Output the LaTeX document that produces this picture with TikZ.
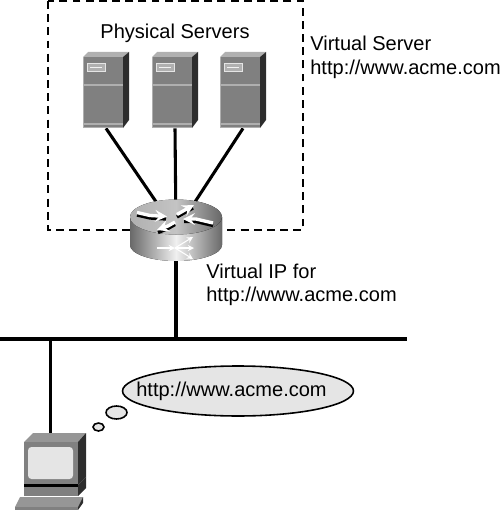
\documentclass[tikz,border=0pt]{standalone}
\usepackage{fontspec}
\setmainfont{Liberation Sans}
\usetikzlibrary{shapes,arrows,positioning,calc}
\definecolor{boxgray}{RGB}{128,128,128}
\definecolor{topgray}{RGB}{176,176,176}
\definecolor{sidegray}{RGB}{45,45,45}
\definecolor{edgegray}{RGB}{175,175,175}
\definecolor{bubblegray}{RGB}{229,229,229}
\definecolor{routerdark}{RGB}{105,105,105}
\definecolor{routerlight}{RGB}{240,240,240}

\begin{document}
\begin{tikzpicture}[
    x=0.02cm, y=-0.02cm,
    label/.style={font=\fontsize{11.4}{13.4}\selectfont, align=left, anchor=west, inner sep=0pt},
    serverbox/.style={minimum width=0.92cm, minimum height=1.52cm, inner sep=0pt},
    routerbox/.style={minimum width=1.84cm, minimum height=1.22cm, inner sep=0pt},
    pcbox/.style={minimum width=1.42cm, minimum height=1.54cm, inner sep=0pt},
    link/.style={line width=1.75pt, black},
    thought/.style={draw=black, line width=0.9pt, fill=bubblegray},
    toparrow/.style={->, >=stealth, white, line width=1.9pt},
    topshade/.style={line width=1.9pt, black},
    fanarrow/.style={->, >=stealth, white, line width=0.6pt}
]
\useasboundingbox (0,0) rectangle (500,510);

% Virtual server frame
\draw[line width=0.6pt, dash pattern=on 4.5pt off 3pt] (48,1) rectangle (303,230);

% Placement boxes
\node[serverbox] (server1) at (106,90) {};
\node[serverbox] (server2) at (175,90) {};
\node[serverbox] (server3) at (243,90) {};
\node[routerbox] (router) at (176,231) {};
\node[pcbox] (pc) at (50.5,471.5) {};
\coordinate (busleft) at (0,339);
\coordinate (busright) at (407,339);

% Links
\draw[link] (server1.south) -- (router.center);
\draw[link] (server2.south) -- (router.center);
\draw[link] (server3.south) -- (router.center);
\draw[link] (router.center) -- (router |- busleft);
\draw[link, line width=2pt] (busleft) -- (busright);
\draw[link] (pc.north) -- (pc |- busleft);

% Servers
\foreach \px in {106,175,243} {
  \begin{scope}[shift={(\px,90)}]
    \fill[topgray] (-23,-33) -- (-18,-38) -- (23,-38) -- (17,-33) -- cycle;
    \fill[sidegray] (17,-33) -- (23,-38) -- (23,30) -- (17,38) -- cycle;
    \fill[boxgray] (-23,-33) rectangle (17,38);
    \draw[edgegray, line width=0.5pt] (-23,38) -- (-23,-33);
    \draw[edgegray, line width=0.6pt] (-23,-5) -- (17,-5);
    \draw[edgegray, line width=0.6pt] (-23,34) -- (17,34);
    \draw[edgegray, line width=0.6pt] (-23,37.5) -- (17,37.5);
    \fill[topgray, draw=white!80!gray, line width=0.4pt] (-19,-27) rectangle (-1,-19);
    \draw[white!90!gray, line width=0.4pt] (-16,-23) -- (-4,-23);
  \end{scope}
}

% Router
\fill[left color=routerdark, right color=routerdark, middle color=routerlight]
  (130,217) -- (130,245) arc[start angle=180, end angle=0, x radius=46, y radius=16] -- (222,217) -- cycle;
\fill[left color=topgray, right color=boxgray!120!white, middle color=topgray!75!white]
  (176,217) ellipse[x radius=46, y radius=17.5];
\draw[topshade] (137,215) -- (150,218) -- (166,219);
\draw[toparrow] (137,212.5) -- (150,215.5) -- (167,216.5);
\draw[topshade] (177,217) -- (184,213) -- (193,208);
\draw[toparrow] (177,214.5) -- (184,210.5) -- (194,205);
\draw[topshade] (213,225.5) -- (196,221.5) -- (184,221.5);
\draw[toparrow] (213,223) -- (196,219) -- (183,219);
\draw[topshade] (175,224.5) -- (168,228.5) -- (158,232.5);
\draw[toparrow] (175,222) -- (168,226) -- (157,230);
\draw[fanarrow] (157,248) -- (175,248);
\draw[fanarrow] (175,248) -- (193,237);
\draw[fanarrow] (175,248) -- (194,248);
\draw[fanarrow] (175,248) -- (193,259);

% Computer
\fill[topgray!85!black] (24,442) -- (33,433) -- (86,433) -- (78,442) -- cycle;
\fill[sidegray] (78,442) -- (86,433) -- (86,477) -- (78,485) -- cycle;
\fill[boxgray] (24,442) rectangle (78,484);
\fill[bubblegray, rounded corners=2pt] (28,447) rectangle (73,479);
\fill[black] (24,484) rectangle (78,486.5);
\fill[boxgray] (24,486.5) rectangle (78,496);
\fill[sidegray] (78,485) -- (86,477) -- (86,488) -- (78,496) -- cycle;
\fill[topgray!85!black] (15,507) -- (20,497) -- (83,497) -- (78,507) -- cycle;
\fill[boxgray] (15,507) rectangle (78,510);
\fill[sidegray] (78,507) -- (83,497) -- (83,503) -- (78,510) -- cycle;

% Thought bubble
\node[thought, ellipse, minimum width=4.62cm, minimum height=1cm, inner sep=0pt] (bubble) at (238,391) {};
\node[thought, ellipse, minimum width=0.42cm, minimum height=0.26cm, inner sep=0pt] (puff1) at (116.5,412.5) {};
\node[thought, ellipse, minimum width=0.22cm, minimum height=0.16cm, inner sep=0pt] (puff2) at (98.5,427) {};
\node[label, anchor=center] (bubbletext) at (231.5,391) {http://www.acme.com};

% Labels
\node[label, anchor=center] (physical) at (175,33) {Physical Servers};
\node[label] (virtualserver) at (310,57.5) {Virtual Server\\http://www.acme.com};
\node[label] (virtualip) at (206,285) {Virtual IP for\\http://www.acme.com};

\end{tikzpicture}
\end{document}
